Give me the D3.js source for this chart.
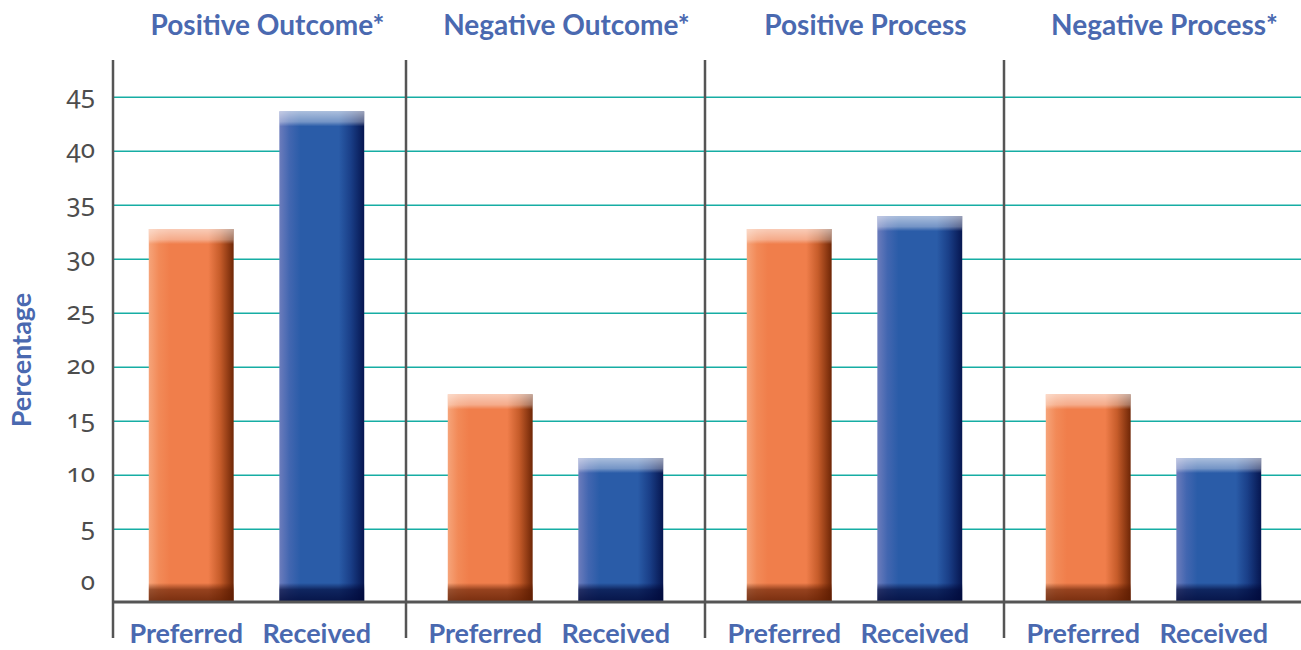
<!DOCTYPE html>
<html>
<head>
<meta charset="utf-8">
<script src="https://cdn.jsdelivr.net/npm/d3@7"></script>
<style>
  html, body { margin: 0; padding: 0; background: #fff; }
  svg { display: block; }
</style>
</head>
<body>
<div id="chart"></div>
<script>
// panels, bars and values
const panels = ['Positive Outcome*', 'Negative Outcome*', 'Positive Process', 'Negative Process*'];
const series = ['Preferred', 'Received'];
const preferred = [32.8, 17.5, 32.8, 17.5];
const received = [43.7, 11.6, 34.0, 11.6];
const yTicks = [0, 5, 10, 15, 20, 25, 30, 35, 40, 45];

const W = 1301, H = 650;
const FONT = 'Lato, "Open Sans", sans-serif';
const NUM_FONT = '"Noto Sans", "Open Sans", sans-serif';
const BLUE_TXT = '#4a69b0';
const AXIS = '#555';

const svg = d3.select('#chart').append('svg')
  .attr('width', W).attr('height', H);

const axisX = 113;
const x0 = d3.scaleBand().domain(panels).range([107, 1303]);
const x1 = d3.scaleBand().domain(series).range([0, x0.bandwidth()])
  .paddingInner(0.35).paddingOuter(0.32);
const y = d3.scaleLinear().domain([0, 45]).range([583.3, 97.3]);
const baseY = 602;

// gradients
const defs = svg.append('defs');
const makeGrad = (id, stops, vertical) => {
  const g = defs.append('linearGradient').attr('id', id)
    .attr('x1', 0).attr('y1', 0)
    .attr('x2', vertical ? 0 : 1).attr('y2', vertical ? 1 : 0);
  stops.forEach(s => g.append('stop').attr('offset', s[0])
    .attr('stop-color', s[1]).attr('stop-opacity', s[2] == null ? 1 : s[2]));
};
makeGrad('orangeBody', [[0, '#f6a47a'], [0.12, '#f28a58'], [0.25, '#f07e4b'], [0.7, '#f07e4b'], [0.84, '#c65c2a'], [1, '#6e2606']]);
makeGrad('blueBody', [[0, '#6c7cbc'], [0.12, '#4266b0'], [0.25, '#2a5ca8'], [0.7, '#2a5ca8'], [0.84, '#1a3f88'], [1, '#061650']]);
makeGrad('capHi', [[0, '#ffffff', 0.6], [0.7, '#ffffff', 0.35], [1, '#ffffff', 0]], true);
makeGrad('baseOrange', [[0, '#5a1a00', 0], [0.35, '#5a1a00', 0.6], [1, '#5a1a00', 0.8]], true);
makeGrad('baseBlue', [[0, '#000838', 0], [0.35, '#000838', 0.65], [1, '#000838', 0.85]], true);

// gridlines
svg.append('g').selectAll('line').data(yTicks.filter(d => d > 0)).join('line')
  .attr('x1', axisX).attr('x2', W)
  .attr('y1', d => y(d)).attr('y2', d => y(d))
  .attr('stroke', '#16ada4').attr('stroke-width', 1.5);

// y tick labels
svg.append('g').selectAll('text').data(yTicks).join('text')
  .attr('x', 95).attr('y', d => y(d) + 7)
  .attr('text-anchor', 'end')
  .attr('font-family', NUM_FONT).attr('font-size', 26)
  .style('font-variant-numeric', 'oldstyle-nums')
  .attr('fill', '#4d4d4d')
  .text(d => d);

// bars
const rows = panels.map((p, i) => ({ panel: p, vals: [preferred[i], received[i]] }));
const bw = x1.bandwidth();
rows.forEach(r => {
  r.vals.forEach((v, j) => {
    const s = series[j];
    const bx = x0(r.panel) + x1(s);
    const top = y(v);
    const g = svg.append('g');
    g.append('rect')
      .attr('x', bx).attr('y', top)
      .attr('width', bw).attr('height', baseY - top)
      .attr('fill', j === 0 ? 'url(#orangeBody)' : 'url(#blueBody)');
    // top bevel highlight
    g.append('rect')
      .attr('x', bx).attr('y', top)
      .attr('width', bw).attr('height', 15)
      .attr('fill', 'url(#capHi)');
    // bottom dark base
    g.append('rect')
      .attr('x', bx).attr('y', baseY - 19)
      .attr('width', bw).attr('height', 19)
      .attr('fill', j === 0 ? 'url(#baseOrange)' : 'url(#baseBlue)');
  });
});

// left axis and panel dividers
const dividers = [axisX].concat(panels.slice(1).map(p => x0(p)));
svg.append('g').selectAll('line').data(dividers).join('line')
  .attr('x1', d => d).attr('x2', d => d)
  .attr('y1', 60).attr('y2', 638)
  .attr('stroke', AXIS).attr('stroke-width', 2.5);

// baseline
svg.append('line')
  .attr('x1', axisX).attr('x2', W)
  .attr('y1', baseY).attr('y2', baseY)
  .attr('stroke', AXIS).attr('stroke-width', 3);

// panel titles
svg.append('g').selectAll('text').data(panels).join('text')
  .attr('x', d => x0(d) + x0.bandwidth() / 2 + 11)
  .attr('y', 35)
  .attr('text-anchor', 'middle')
  .attr('font-family', FONT).attr('font-weight', 'bold').attr('font-size', 28)
  .attr('fill', BLUE_TXT)
  .text(d => d);

// category labels under bars
panels.forEach(p => {
  svg.append('g').selectAll('text').data(series).join('text')
    .attr('x', d => x0(p) + x1(d) + bw / 2 - 5)
    .attr('y', 643)
    .attr('text-anchor', 'middle')
    .attr('font-family', FONT).attr('font-weight', 'bold').attr('font-size', 27)
    .attr('fill', BLUE_TXT)
    .text(d => d);
});

// y axis title
svg.append('text')
  .attr('transform', 'translate(31,360) rotate(-90)')
  .attr('text-anchor', 'middle')
  .attr('font-family', FONT).attr('font-weight', 'bold').attr('font-size', 27)
  .attr('fill', BLUE_TXT)
  .text('Percentage');
</script>
</body>
</html>
